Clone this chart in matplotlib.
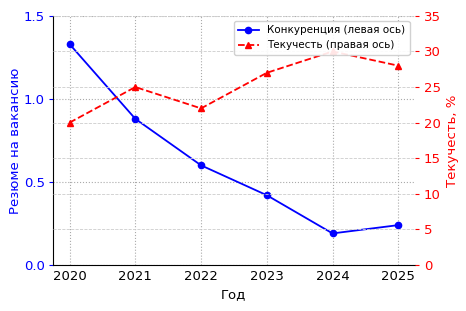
import matplotlib.pyplot as plt

years = [2020, 2021, 2022, 2023, 2024, 2025]
competition = [1.33, 0.88, 0.60, 0.42, 0.19, 0.24]
turnover = [20, 25, 22, 27, 30, 28]

fig = plt.figure(figsize=(4.66, 3.11), dpi=100)
ax1 = fig.add_axes([0.114, 0.148, 0.776, 0.801])
ax2 = ax1.twinx()

l1, = ax1.plot(years, competition, color="blue", marker="o", markersize=4.5,
               linewidth=1.3, label="Конкуренция (левая ось)")
l2, = ax2.plot(years, turnover, color="red", marker="^", markersize=4.5,
               linewidth=1.3, linestyle="--", label="Текучесть (правая ось)")

ax1.set_ylim(0, 1.5)
ax1.set_yticks([0, 0.5, 1.0, 1.5])
ax2.set_ylim(0, 35)
ax2.set_yticks(range(0, 36, 5))
ax1.set_xticks(years)

ax1.set_xlabel("Год", fontsize=9.5)
ax1.set_ylabel("Резюме на вакансию", color="blue", fontsize=9.5, labelpad=1)
ax2.set_ylabel("Текучесть, %", color="red", fontsize=9.5)

ax1.tick_params(axis="y", colors="blue", labelsize=9.5, length=3, pad=3)
ax1.tick_params(axis="x", labelsize=9.5, length=0)
ax2.tick_params(axis="y", colors="red", labelsize=9.5, length=3)

ax1.grid(True, linestyle=":", color="#aaaaaa", linewidth=0.8)
ax2.grid(True, axis="y", linestyle="--", color="#cccccc", linewidth=0.6)

for ax in (ax1, ax2):
    ax.spines["top"].set_visible(False)
    ax.spines["right"].set_visible(False)
ax2.spines["left"].set_visible(False)
ax2.spines["bottom"].set_visible(False)

ax2.legend([l1, l2], [l1.get_label(), l2.get_label()], loc="upper right",
           fontsize=7.5, framealpha=0.9)

fig.savefig("out.png", dpi=100)
